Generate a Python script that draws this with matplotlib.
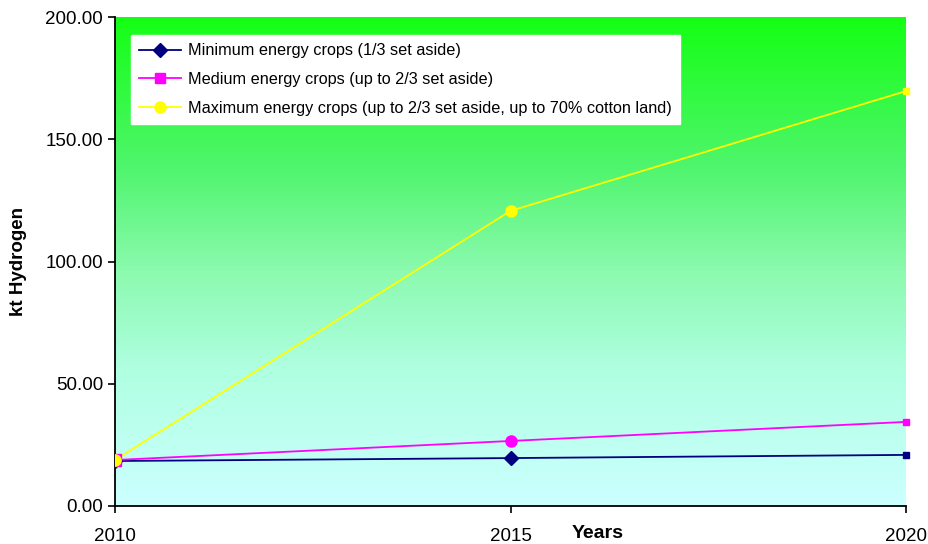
import numpy as np
import matplotlib
matplotlib.use("Agg")
import matplotlib.pyplot as plt
from matplotlib.lines import Line2D
from matplotlib.colors import LinearSegmentedColormap

plt.rcParams['font.family'] = ['Liberation Sans', 'DejaVu Sans']

years = [2010, 2015, 2020]
minimum = [18.4, 19.6, 20.9]
medium = [18.8, 26.6, 34.4]
maximum = [18.8, 120.7, 169.7]
labels = [
    "Minimum energy crops (1/3 set aside)",
    "Medium energy crops (up to 2/3 set aside)",
    "Maximum energy crops (up to 2/3 set aside, up to 70% cotton land)",
]
yticks = [0, 50, 100, 150, 200]

fig = plt.figure(figsize=(9.29, 5.44), dpi=100)
ax = fig.add_axes([115/929, 38/544, (906-115)/929, (506-17)/544])
ax.set_xlim(2010, 2020)
ax.set_ylim(0, 200)

# vertical background gradient: pale cyan at the bottom rising to bright green
stops = [
    (0.00, (204/255, 1.0, 1.0)),
    (0.28, (175/255, 1.0, 225/255)),
    (0.48, (140/255, 250/255, 175/255)),
    (0.69, (80/255, 245/255, 110/255)),
    (1.00, (20/255, 1.0, 20/255)),
]
cmap = LinearSegmentedColormap.from_list("bg", stops)
grad = np.linspace(0, 1, 256).reshape(-1, 1)
ax.imshow(grad, cmap=cmap, origin="lower", aspect="auto",
          extent=[2010, 2020, 0, 200], zorder=0)

navy = "#000080"
magenta = "#ff00ff"
yellow = "#ffff00"

ax.plot(years, minimum, color=navy, lw=1.3, zorder=3)
ax.plot(years[:2], minimum[:2], ls="none", marker="D", ms=7, color=navy, zorder=4)
ax.plot(years, medium, color=magenta, lw=1.3, zorder=3)
ax.plot(years[:1], medium[:1], ls="none", marker="s", ms=8, color=magenta, zorder=4)
ax.plot(years[1:2], medium[1:2], ls="none", marker="o", ms=8, color=magenta, zorder=4)
ax.plot(years, maximum, color=yellow, lw=1.3, zorder=3)
ax.plot(years[:2], maximum[:2], ls="none", marker="o", ms=8, color=yellow, zorder=5)
for vals, c in [(minimum, navy), (medium, magenta), (maximum, yellow)]:
    ax.plot([years[-1]], [vals[-1]], ls="none", marker="s", ms=5, color=c,
            clip_on=False, zorder=5)

handles = [
    Line2D([], [], color=navy, marker="D", ms=7, lw=1.3),
    Line2D([], [], color=magenta, marker="s", ms=7, lw=1.3),
    Line2D([], [], color=yellow, marker="o", ms=8, lw=1.3),
]
leg = ax.legend(handles, labels, loc="upper left", bbox_to_anchor=(0.02, 0.963),
                frameon=True, fancybox=False, fontsize=11.7, handlelength=2.6,
                handletextpad=0.4, labelspacing=0.85, borderpad=0.5,
                borderaxespad=0)
leg.get_frame().set_facecolor("white")
leg.get_frame().set_edgecolor("white")
leg.get_frame().set_alpha(1)

ax.set_yticks(yticks)
ax.set_yticklabels([f"{v:.2f}" for v in yticks], fontsize=13.5)
ax.set_xticks(years)
ax.set_xticklabels([str(y) for y in years], fontsize=13.5)
ax.tick_params(axis="both", direction="out", length=5, width=1.2, color="black")
ax.tick_params(axis="x", pad=11)
for s in ["top", "right"]:
    ax.spines[s].set_visible(False)
for s in ["left", "bottom"]:
    ax.spines[s].set_linewidth(1.3)

ax.set_ylabel("kt Hydrogen", fontsize=13.5, fontweight="bold", labelpad=13)
fig.text(598/929, 1 - 533/544, "Years", fontsize=14, fontweight="bold",
         ha="center", va="center")

fig.savefig("out.png", dpi=100)
